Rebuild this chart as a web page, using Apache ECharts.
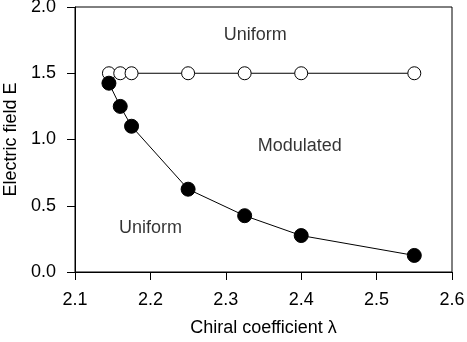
<!DOCTYPE html>
<html>
<head>
<meta charset="utf-8">
<script src="https://cdn.jsdelivr.net/npm/echarts@6/dist/echarts.min.js"></script>
<style>
  html, body { margin: 0; padding: 0; background: #fff; }
  #chart { width: 467px; height: 342px; }
</style>
</head>
<body>
<div id="chart"></div>
<script>
// chiral coefficient values where the boundaries were computed
const lambdaUpper = [2.145, 2.16, 2.175, 2.25, 2.325, 2.4, 2.55]
const fieldUpper = [1.5, 1.5, 1.5, 1.5, 1.5, 1.5, 1.5]
const lambdaLower = [2.145, 2.16, 2.175, 2.25, 2.325, 2.4, 2.55]
const fieldLower = [1.425, 1.25, 1.1, 0.625, 0.425, 0.275, 0.125]

// region names placed inside the plot
const regionNames = ['Uniform', 'Modulated', 'Uniform']
const regionX = [2.339, 2.398, 2.2]
const regionY = [1.79, 0.95, 0.33]

const xTicks = [2.1, 2.2, 2.3, 2.4, 2.5, 2.6]
const yTicks = [0.0, 0.5, 1.0, 1.5, 2.0]

const font = 'Liberation Sans, Arial, sans-serif'

const zip = (xs, ys) => xs.map((x, i) => [x, ys[i]])

const chart = echarts.init(document.getElementById('chart'))
chart.setOption({
  animation: false,
  grid: {
    left: 75,
    right: 15,
    top: 7,
    bottom: 70,
    outerBoundsMode: 'none',
    containLabel: false,
    show: true,
    borderColor: '#000',
    borderWidth: 1,
  },
  xAxis: {
    type: 'value',
    min: 2.1,
    max: 2.6,
    interval: 0.1,
    name: 'Chiral coefficient \u03bb',
    nameLocation: 'middle',
    nameGap: 47,
    nameTextStyle: { color: '#000', fontSize: 18, fontFamily: font },
    axisLine: { onZero: false, lineStyle: { color: '#000', width: 1 } },
    axisTick: { inside: false, length: 8, lineStyle: { color: '#000' } },
    axisLabel: {
      color: '#000', fontSize: 18, fontFamily: font, margin: 19,
      formatter: v => xTicks.includes(+v.toFixed(1)) ? v.toFixed(1) : '',
    },
    splitLine: { show: false },
  },
  yAxis: {
    type: 'value',
    min: 0,
    max: 2,
    interval: 0.5,
    name: 'Electric field E',
    nameLocation: 'middle',
    nameGap: 55,
    nameTextStyle: { color: '#000', fontSize: 18, fontFamily: font },
    axisLine: { onZero: false, lineStyle: { color: '#000', width: 1 } },
    axisTick: { inside: false, length: 8, lineStyle: { color: '#000' } },
    axisLabel: {
      color: '#000', fontSize: 18, fontFamily: font, margin: 19,
      formatter: v => yTicks.includes(v) ? v.toFixed(1) : '',
    },
    splitLine: { show: false },
  },
  series: [
    {
      type: 'line',
      data: zip(lambdaUpper, fieldUpper),
      symbol: 'circle',
      symbolSize: 13,
      lineStyle: { color: '#000', width: 1 },
      itemStyle: { color: '#fff', borderColor: '#000', borderWidth: 1 },
      z: 3,
    },
    {
      type: 'line',
      data: zip(lambdaLower, fieldLower),
      symbol: 'circle',
      symbolSize: 14,
      lineStyle: { color: '#000', width: 1 },
      itemStyle: { color: '#000', borderColor: '#000', borderWidth: 1 },
      z: 4,
    },
    {
      type: 'scatter',
      data: regionNames.map((n, i) => ({ value: [regionX[i], regionY[i]], name: n })),
      symbolSize: 0,
      silent: true,
      label: {
        show: true,
        position: 'inside',
        formatter: p => p.name,
        color: '#000',
        fontSize: 18,
        fontFamily: font,
      },
    },
  ],
})
</script>
</body>
</html>
